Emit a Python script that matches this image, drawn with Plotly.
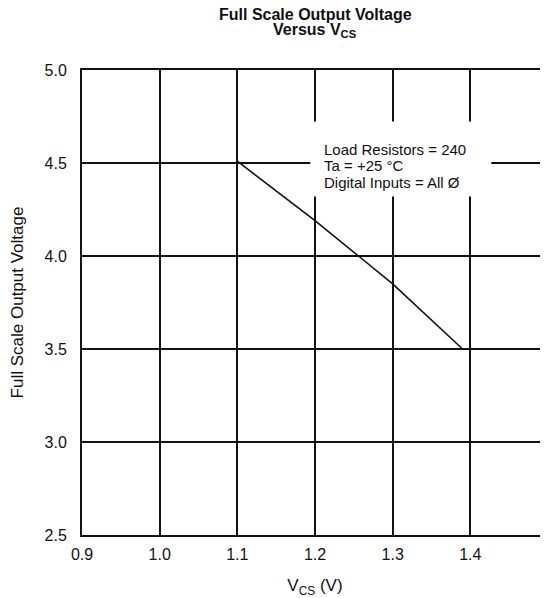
import plotly.graph_objects as go

# ---- data ----
vcs = [1.10, 1.20, 1.256, 1.30, 1.39]
vout = [4.51, 4.19, 4.00, 3.85, 3.50]
x_ticks = [0.9, 1.0, 1.1, 1.2, 1.3, 1.4, 1.5]
x_tick_labels = ["0.9", "1.0", "1.1", "1.2", "1.3", "1.4", ""]
y_ticks = [2.5, 3.0, 3.5, 4.0, 4.5, 5.0]
y_tick_labels = ["2.5", "3.0", "3.5", "4.0", "4.5", "5.0"]
note_lines = ["Load Resistors = 240", "Ta = +25 °C", "Digital Inputs = All Ø"]
title_lines = ["<b>Full Scale Output Voltage</b>", "<b>Versus V<sub>CS</sub></b>"]

FONT = "Liberation Sans, Arial, Helvetica, sans-serif"
INK = "#111111"

fig = go.Figure()
fig.add_trace(go.Scatter(x=vcs, y=vout, mode="lines",
                         line=dict(color=INK, width=1.6), hoverinfo="skip",
                         showlegend=False))

axis_common = dict(showgrid=True, gridcolor=INK, gridwidth=2,
                   showline=True, linecolor=INK, linewidth=2,
                   zeroline=False, ticks="outside", tickcolor="rgba(0,0,0,0)",
                   automargin=False,
                   tickfont=dict(family=FONT, size=16, color=INK))

fig.update_xaxes(range=[0.9, 1.5], tickvals=x_ticks, ticktext=x_tick_labels,
                 ticklen=4, mirror=True,
                 title=dict(text="V<sub>CS</sub> (V)", standoff=18,
                            font=dict(family=FONT, size=17, color=INK)),
                 **axis_common)
fig.update_yaxes(range=[2.5, 5.0], tickvals=y_ticks, ticktext=y_tick_labels,
                 ticklen=10,
                 title=dict(text="Full Scale Output Voltage", standoff=28,
                            font=dict(family=FONT, size=17, color=INK)),
                 **axis_common)

# white box behind the note
fig.add_shape(type="rect", xref="x", yref="y", x0=1.194, x1=1.427,
              y0=4.32, y1=4.723, fillcolor="white", line=dict(width=0),
              layer="above")

note_y = [4.575, 4.487, 4.395]
for txt, yy in zip(note_lines, note_y):
    fig.add_annotation(x=1.2085, y=yy, xref="x", yref="y", text=txt,
                       showarrow=False, xanchor="left", yanchor="middle",
                       font=dict(family=FONT, size=15, color=INK))

title_shift = [56, 40]
for txt, sh in zip(title_lines, title_shift):
    fig.add_annotation(x=0.5, y=1, xref="paper", yref="paper", text=txt,
                       showarrow=False, xanchor="center", yanchor="middle",
                       yshift=sh, font=dict(family=FONT, size=16, color=INK))

# the page body has an 8px margin, so the figure is offset by 8px
fig.update_layout(width=540, height=590,
                  margin=dict(l=74, r=0, t=62, b=63),
                  paper_bgcolor="white", plot_bgcolor="white",
                  font=dict(family=FONT, color=INK))

fig.write_html("out.html")
